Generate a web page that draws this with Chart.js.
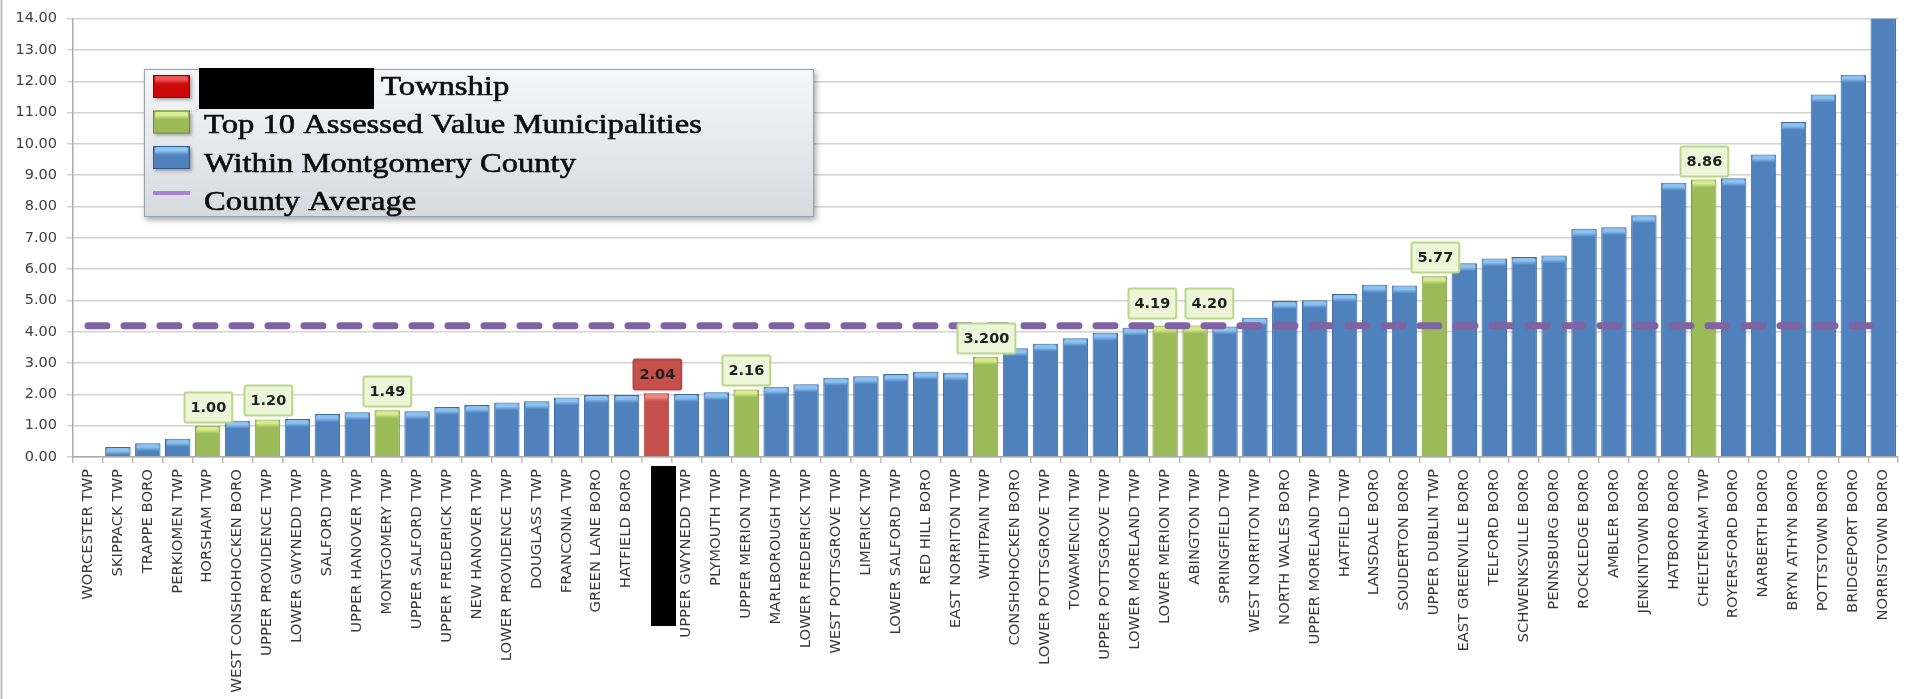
<!DOCTYPE html>
<html>
<head>
<meta charset="utf-8">
<title>Millage by Municipality</title>
<script src="https://cdn.jsdelivr.net/npm/chart.js@4.4.1/dist/chart.umd.min.js"></script>
<style>
  html, body { margin: 0; padding: 0; background: #ffffff; }
  canvas { display: block; }
</style>
</head>
<body>
<canvas id="chart" width="1907" height="699"></canvas>
<script>
// Municipalities in ascending order of rate; the home township's name is blacked out.
const categories = [
  'WORCESTER TWP', 'SKIPPACK TWP', 'TRAPPE BORO', 'PERKIOMEN TWP', 'HORSHAM TWP',
  'WEST CONSHOHOCKEN BORO', 'UPPER PROVIDENCE TWP', 'LOWER GWYNEDD TWP', 'SALFORD TWP', 'UPPER HANOVER TWP',
  'MONTGOMERY TWP', 'UPPER SALFORD TWP', 'UPPER FREDERICK TWP', 'NEW HANOVER TWP', 'LOWER PROVIDENCE TWP',
  'DOUGLASS TWP', 'FRANCONIA TWP', 'GREEN LANE BORO', 'HATFIELD BORO', '',
  'UPPER GWYNEDD TWP', 'PLYMOUTH TWP', 'UPPER MERION TWP', 'MARLBOROUGH TWP', 'LOWER FREDERICK TWP',
  'WEST POTTSGROVE TWP', 'LIMERICK TWP', 'LOWER SALFORD TWP', 'RED HILL BORO', 'EAST NORRITON TWP',
  'WHITPAIN TWP', 'CONSHOHOCKEN BORO', 'LOWER POTTSGROVE TWP', 'TOWAMENCIN TWP', 'UPPER POTTSGROVE TWP',
  'LOWER MORELAND TWP', 'LOWER MERION TWP', 'ABINGTON TWP', 'SPRINGFIELD TWP', 'WEST NORRITON TWP',
  'NORTH WALES BORO', 'UPPER MORELAND TWP', 'HATFIELD TWP', 'LANSDALE BORO', 'SOUDERTON BORO',
  'UPPER DUBLIN TWP', 'EAST GREENVILLE BORO', 'TELFORD BORO', 'SCHWENKSVILLE BORO', 'PENNSBURG BORO',
  'ROCKLEDGE BORO', 'AMBLER BORO', 'JENKINTOWN BORO', 'HATBORO BORO', 'CHELTENHAM TWP',
  'ROYERSFORD BORO', 'NARBERTH BORO', 'BRYN ATHYN BORO', 'POTTSTOWN BORO', 'BRIDGEPORT BORO',
  'NORRISTOWN BORO'
];

const rates = [
  0.00, 0.32, 0.44, 0.58, 1.00,
  1.16, 1.20, 1.21, 1.37, 1.43,
  1.49, 1.46, 1.60, 1.66, 1.74,
  1.78, 1.90, 1.98, 1.98, 2.04,
  2.01, 2.07, 2.16, 2.24, 2.32,
  2.53, 2.58, 2.65, 2.72, 2.69,
  3.200, 3.47, 3.62, 3.79, 3.97,
  4.13, 4.19, 4.20, 4.17, 4.45,
  4.98, 5.01, 5.21, 5.50, 5.48,
  5.77, 6.19, 6.34, 6.39, 6.44,
  7.29, 7.34, 7.72, 8.76, 8.86,
  8.90, 9.66, 10.70, 11.58, 12.21,
  14.60
];

const top10Municipalities = [
  'HORSHAM TWP', 'UPPER PROVIDENCE TWP', 'MONTGOMERY TWP', 'UPPER MERION TWP', 'WHITPAIN TWP',
  'LOWER MERION TWP', 'ABINGTON TWP', 'UPPER DUBLIN TWP', 'CHELTENHAM TWP'
];

const homeIndex = 19;
const countyAverage = 4.19;

const yMin = 0;
const yMax = 14;
const yStep = 1;

// Decimal places shown in a bar's value box (2 unless listed)
const labelDecimals = { 'WHITPAIN TWP': 3 };

const seriesNames = ['Township', 'Top 10 Assessed Value Municipalities', 'Within Montgomery County', 'County Average'];

// ---- series split ----
const isTop10 = categories.map(c => top10Municipalities.includes(c));
const homeData = rates.map((v, i) => (i === homeIndex ? v : null));
const top10Data = rates.map((v, i) => (isTop10[i] ? v : null));
const otherData = rates.map((v, i) => (i !== homeIndex && !isTop10[i] ? v : null));
const averageData = categories.map(() => countyAverage);

const barCommon = {
  type: 'bar',
  grouped: false,
  categoryPercentage: 0.85,
  barPercentage: 1.0,
  borderWidth: 1,
  borderSkipped: 'bottom',
  order: 1
};

// ---- plugins ----
function roundRectPath(ctx, x, y, w, h, r) {
  ctx.beginPath();
  ctx.moveTo(x + r, y);
  ctx.lineTo(x + w - r, y);
  ctx.quadraticCurveTo(x + w, y, x + w, y + r);
  ctx.lineTo(x + w, y + h - r);
  ctx.quadraticCurveTo(x + w, y + h, x + w - r, y + h);
  ctx.lineTo(x + r, y + h);
  ctx.quadraticCurveTo(x, y + h, x, y + h - r);
  ctx.lineTo(x, y + r);
  ctx.quadraticCurveTo(x, y, x + r, y);
  ctx.closePath();
}

// Glossy cap on top of each bar
const bevelPlugin = {
  id: 'bevel',
  afterDatasetDraw(chart, args) {
    const ds = chart.data.datasets[args.index];
    if (!ds.bevelColor) return;
    const { ctx, chartArea } = chart;
    const yScale = chart.scales.y;
    ctx.save();
    ctx.beginPath();
    ctx.rect(chartArea.left, chartArea.top, chartArea.right - chartArea.left, chartArea.bottom - chartArea.top);
    ctx.clip();
    args.meta.data.forEach((bar, i) => {
      const v = ds.data[i];
      if (v == null || v <= 0 || v > yScale.max) return;
      const p = bar.getProps(['x', 'y', 'width', 'base'], true);
      const h = Math.min(8, p.base - p.y - 1);
      if (h <= 1) return;
      const left = p.x - p.width / 2 + 1.5;
      const w = p.width - 3;
      const g = ctx.createLinearGradient(0, p.y, 0, p.y + h);
      g.addColorStop(0, ds.bevelColor);
      g.addColorStop(0.5, ds.bevelColor);
      g.addColorStop(1, ds.backgroundColor);
      ctx.fillStyle = g;
      roundRectPath(ctx, left, p.y + 1, w, h, 2);
      ctx.fill();
    });
    ctx.restore();
  }
};

// Boxed value tags above selected bars; neighbouring tags are nudged apart
const valueLabelPlugin = {
  id: 'valueLabels',
  afterDatasetsDraw(chart) {
    const { ctx } = chart;
    const font = 'bold 14.5px "DejaVu Sans", sans-serif';
    const tags = [];
    ctx.save();
    ctx.font = font;
    chart.data.datasets.forEach((ds, di) => {
      if (!ds.tagFill) return;
      const meta = chart.getDatasetMeta(di);
      meta.data.forEach((bar, i) => {
        const v = ds.data[i];
        if (v == null) return;
        const digits = labelDecimals[categories[i]] !== undefined ? labelDecimals[categories[i]] : 2;
        const text = v.toFixed(digits);
        const w = ctx.measureText(text).width + 12;
        const p = bar.getProps(['x', 'y'], true);
        tags.push({ text, w, h: 30, cx: p.x, bottom: p.y - 4, fill: ds.tagFill, border: ds.tagBorder });
      });
    });
    tags.sort((a, b) => a.cx - b.cx);
    const gap = 9;
    for (let i = 1; i < tags.length; i++) {
      const a = tags[i - 1], b = tags[i];
      const overlap = (a.cx + a.w / 2 + gap) - (b.cx - b.w / 2);
      if (overlap > 0 && Math.abs(a.bottom - b.bottom) < b.h) {
        a.cx -= overlap / 2;
        b.cx += overlap / 2;
        a.bottom -= 4;
        b.bottom -= 4;
      }
    }
    tags.forEach(t => {
      const bx = Math.round(t.cx - t.w / 2);
      const by = Math.round(t.bottom - t.h);
      roundRectPath(ctx, bx + 0.5, by + 0.5, t.w, t.h, 2);
      ctx.fillStyle = t.fill;
      ctx.fill();
      ctx.lineWidth = 2;
      ctx.strokeStyle = t.border;
      ctx.stroke();
      ctx.fillStyle = '#1e1e1e';
      ctx.textAlign = 'center';
      ctx.textBaseline = 'middle';
      ctx.fillText(t.text, bx + t.w / 2 + 0.5, by + t.h / 2 + 1.5);
    });
    ctx.restore();
  }
};

// Frame line and the blacked-out category name
const framePlugin = {
  id: 'frame',
  afterDraw(chart) {
    const { ctx, chartArea } = chart;
    const xScale = chart.scales.x;
    ctx.save();
    ctx.fillStyle = '#bdbdbd';
    ctx.fillRect(0.5, 0, 2, chart.height);
    const cx = xScale.getPixelForValue(homeIndex);
    ctx.fillStyle = '#000000';
    ctx.fillRect(Math.round(cx - 5), chartArea.bottom + 9, 25, 160);
    ctx.restore();
  }
};

// Floating legend panel
const legendPlugin = {
  id: 'boxLegend',
  afterDraw(chart, args, opts) {
    const { ctx } = chart;
    const b = opts.box;
    ctx.save();
    ctx.shadowColor = 'rgba(0,0,0,0.35)';
    ctx.shadowBlur = 6;
    ctx.shadowOffsetX = 2;
    ctx.shadowOffsetY = 3;
    const g = ctx.createLinearGradient(0, b.y, 0, b.y + b.height);
    g.addColorStop(0, '#f6f7f9');
    g.addColorStop(1, '#d6dadf');
    ctx.fillStyle = g;
    ctx.fillRect(b.x, b.y, b.width, b.height);
    ctx.shadowColor = 'transparent';
    ctx.strokeStyle = '#9ba1a8';
    ctx.lineWidth = 1;
    ctx.strokeRect(b.x + 0.5, b.y + 0.5, b.width - 1, b.height - 1);

    chart.data.datasets.forEach((ds, i) => {
      const cy = opts.symbolTop + i * opts.symbolStep;
      const baseline = opts.textTop + i * opts.textStep;
      const sx = opts.symbolX;
      const sw = opts.symbolWidth;
      if (ds.type === 'line') {
        ctx.fillStyle = ds.legendColor;
        ctx.fillRect(sx, cy - 2, sw, 4);
      } else {
        const sh = 23;
        const top = cy - sh / 2;
        ctx.save();
        ctx.shadowColor = 'rgba(0,0,0,0.3)';
        ctx.shadowBlur = 3;
        ctx.shadowOffsetY = 2;
        ctx.fillStyle = ds.legendColor;
        ctx.fillRect(sx, top, sw, sh);
        ctx.restore();
        const cg = ctx.createLinearGradient(0, top, 0, top + 9);
        cg.addColorStop(0, ds.legendBevel);
        cg.addColorStop(0.5, ds.legendBevel);
        cg.addColorStop(1, ds.legendColor);
        ctx.fillStyle = cg;
        roundRectPath(ctx, sx + 2, top + 1, sw - 4, 9, 2);
        ctx.fill();
        ctx.strokeStyle = ds.legendEdge;
        ctx.lineWidth = 1;
        ctx.strokeRect(sx + 0.5, top + 0.5, sw - 1, sh - 1);
      }
      let tx = opts.textX;
      if (ds.legendRedacted) {
        ctx.fillStyle = '#000000';
        ctx.fillRect(tx - 5, 68, 175, 41);
        tx += 177;
      }
      ctx.save();
      ctx.font = '28px "Liberation Serif", serif';
      ctx.fillStyle = '#0d0d0d';
      ctx.strokeStyle = '#0d0d0d';
      ctx.lineWidth = 0.6;
      ctx.textBaseline = 'alphabetic';
      ctx.translate(tx, baseline);
      ctx.scale(1.165, 1);
      ctx.fillText(ds.label, 0, 0);
      ctx.strokeText(ds.label, 0, 0);
      ctx.restore();
    });
    ctx.restore();
  }
};

const tickFont = { family: '"DejaVu Sans", sans-serif', size: 14.5 };

new Chart(document.getElementById('chart'), {
  data: {
    labels: categories,
    datasets: [
      Object.assign({}, barCommon, {
        label: seriesNames[0],
        data: homeData,
        backgroundColor: '#c6504c',
        borderColor: '#a8403d',
        bevelColor: '#e98a86',
        tagFill: '#c6504c',
        tagBorder: '#b84642',
        legendColor: '#cc0a0a',
        legendBevel: '#ee5555',
        legendEdge: '#8c0000',
        legendRedacted: true
      }),
      Object.assign({}, barCommon, {
        label: seriesNames[1],
        data: top10Data,
        backgroundColor: '#9bbb59',
        borderColor: '#7d9a42',
        bevelColor: '#d7ea8e',
        tagFill: '#edf6d8',
        tagBorder: '#b8d885',
        legendColor: '#9bbb59',
        legendBevel: '#dcee96',
        legendEdge: '#6f8a3a'
      }),
      Object.assign({}, barCommon, {
        label: seriesNames[2],
        data: otherData,
        backgroundColor: '#4f81bd',
        borderColor: '#3d6a9f',
        bevelColor: '#8cc2f0',
        legendColor: '#4f81bd',
        legendBevel: '#90c6f4',
        legendEdge: '#33598a'
      }),
      {
        type: 'line',
        label: seriesNames[3],
        data: averageData,
        borderColor: '#8064a2',
        borderWidth: 7,
        borderDash: [19, 17],
        borderCapStyle: 'round',
        pointRadius: 0,
        fill: false,
        tension: 0,
        order: 0,
        legendColor: '#ad7fcf'
      }
    ]
  },
  options: {
    responsive: false,
    animation: false,
    devicePixelRatio: 1,
    layout: {
      autoPadding: false,
      padding: { top: 13, left: 0, right: 0, bottom: 0 }
    },
    plugins: {
      legend: { display: false },
      tooltip: { enabled: false },
      boxLegend: {
        box: { x: 144, y: 69, width: 670, height: 148 },
        symbolX: 153,
        symbolWidth: 37,
        symbolTop: 86.5,
        symbolStep: 35.5,
        textX: 204,
        textTop: 94.5,
        textStep: 38.5
      }
    },
    scales: {
      x: {
        grid: {
          offset: true,
          drawOnChartArea: false,
          drawTicks: true,
          tickLength: 6,
          color: '#bcbcbc',
          lineWidth: 1.5
        },
        border: { display: true, color: '#aaaaaa', width: 1.5 },
        ticks: {
          autoSkip: false,
          minRotation: 90,
          maxRotation: 90,
          padding: 6,
          color: '#383838',
          font: { family: '"DejaVu Sans", sans-serif', size: 14.8 }
        },
        afterFit(scale) { scale.height = 242; }
      },
      y: {
        min: yMin,
        max: yMax,
        grid: {
          color: '#d2d2d2',
          lineWidth: 1.5,
          drawTicks: true,
          tickLength: 6
        },
        border: { display: true, color: '#aaaaaa', width: 1.5 },
        ticks: {
          stepSize: yStep,
          padding: 10,
          color: '#404040',
          font: tickFont,
          callback: v => Number(v).toFixed(2)
        },
        afterFit(scale) { scale.width = 73; }
      }
    }
  },
  plugins: [bevelPlugin, valueLabelPlugin, framePlugin, legendPlugin]
});
</script>
</body>
</html>
